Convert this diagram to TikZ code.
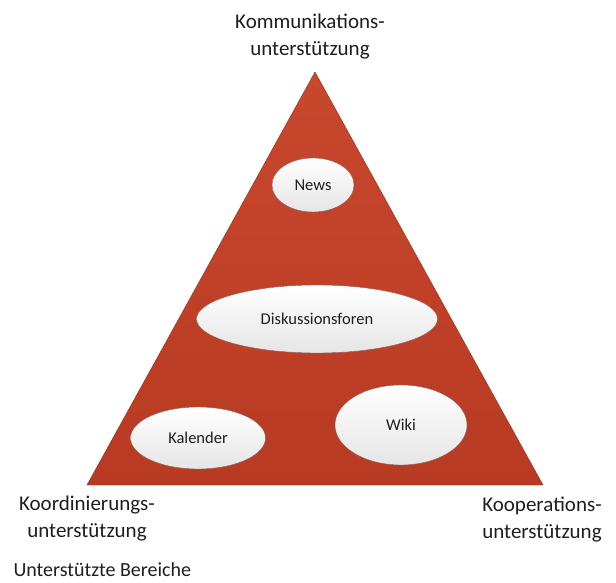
\documentclass[tikz,border=0pt]{standalone}
\usepackage{fontspec}
\setmainfont{Carlito}
\usetikzlibrary{shapes.geometric}
\usetikzlibrary{positioning}

\definecolor{pyramidtop}{RGB}{200,72,46}
\definecolor{pyramidbottom}{RGB}{184,58,34}
\definecolor{pyramidedge}{RGB}{150,45,25}
\definecolor{ovaledge}{RGB}{140,95,85}
\definecolor{labeltext}{RGB}{30,30,30}

\tikzset{
  areatext/.style={font=\fontsize{21}{27}\selectfont,text=labeltext,align=center},
  tooloval/.style={ellipse,draw=ovaledge,thin,top color=white,bottom color=black!10,
    inner sep=0pt,font=\fontsize{16.5}{18}\selectfont,text=labeltext}
}

\begin{document}
\begin{tikzpicture}[x=1pt,y=-1pt]
\useasboundingbox (0,0) rectangle (616,583);

% Pyramide
\coordinate (Top) at (315,72);
\coordinate (Left) at (87,485);
\coordinate (Right) at (543,485);
\draw[pyramidedge,thin,top color=pyramidtop,bottom color=pyramidbottom] (Top) -- (Right) -- (Left) -- cycle;

% Werkzeuge
\node[tooloval,minimum width=82pt,minimum height=54pt] (News) at (313,185) {News};
\node[tooloval,minimum width=241pt,minimum height=68pt] (Foren) at (317,319) {Diskussionsforen};
\node[tooloval,minimum width=135pt,minimum height=62pt] (Kalender) at (198,438) {Kalender};
\node[tooloval,minimum width=132pt,minimum height=80pt] (Wiki) at (401,425) {Wiki};

% Bereiche
\node[areatext] (Komm) at (310,36.5) {Kommunikations-\\unterst\"utzung};
\node[areatext] (Koord) at (87,519) {Koordinierungs-\\unterst\"utzung};
\node[areatext] (Koop) at (542,520) {Kooperations-\\unterst\"utzung};
\node[font=\fontsize{20}{24}\selectfont,text=labeltext,anchor=west] (Bereiche) at (10,570) {Unterst\"utzte Bereiche};

\end{tikzpicture}
\end{document}
